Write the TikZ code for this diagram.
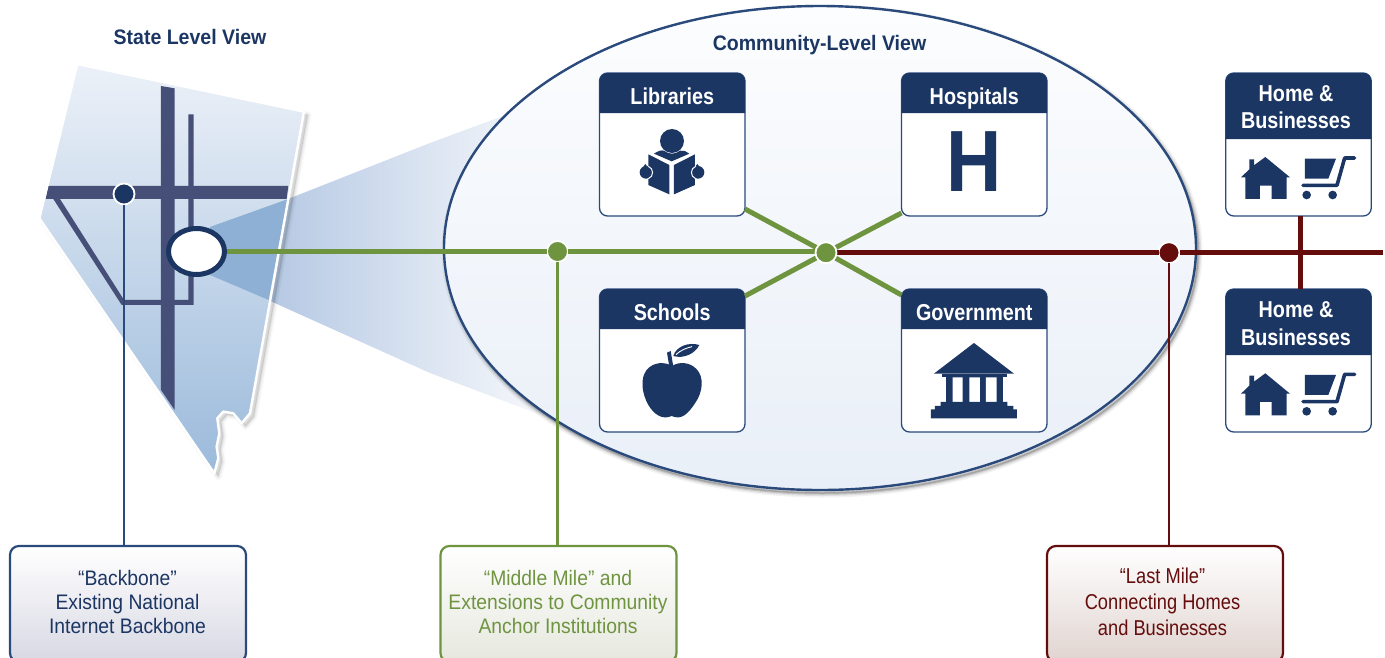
\documentclass[tikz,border=0pt]{standalone}
\usepackage{fontspec}
\setmainfont{Liberation Sans}
\newfontfamily\titlefont[FakeStretch=0.93]{Liberation Sans}
\newfontfamily\cardfont[FakeStretch=0.86]{Liberation Sans}
\newfontfamily\legfont[FakeStretch=0.92]{Liberation Sans}
\newfontfamily\redfont[FakeStretch=0.85]{Liberation Sans}
\newfontfamily\hfont[FakeStretch=0.88]{Liberation Sans}
\usetikzlibrary{calc,shapes.geometric}
\definecolor{navy}{HTML}{1C3664}
\definecolor{edgeblue}{HTML}{2B4A7C}
\definecolor{roadblue}{HTML}{454F78}
\definecolor{midgreen}{HTML}{6F9440}
\definecolor{lastred}{HTML}{650C0C}
\definecolor{wedgeL}{RGB}{167,190,222}
\definecolor{wedgeR}{RGB}{250,251,253}
\definecolor{wedgeIn}{RGB}{142,176,212}
\definecolor{mapT}{RGB}{236,241,248}
\definecolor{mapB}{RGB}{155,186,219}
\definecolor{ovalT}{RGB}{252,253,254}
\definecolor{ovalB}{RGB}{233,239,248}
\definecolor{legB}{RGB}{216,216,228}
\definecolor{legG}{RGB}{230,232,222}
\definecolor{legR}{RGB}{224,212,208}
\tikzset{
  cardbox/.style={draw=edgeblue,line width=1.3pt,fill=white,rounded corners=8pt,minimum width=145.5pt,minimum height=143pt,inner sep=0pt,outer sep=0pt},
  cardtitle/.style={text=white,font=\cardfont\fontsize{23}{27.5}\selectfont\bfseries,align=center,inner sep=0pt},
  viewtitle/.style={text=navy,font=\titlefont\fontsize{21}{25}\selectfont\bfseries,inner sep=0pt},
  legendbox/.style={rounded corners=9pt,line width=2.2pt,minimum width=236pt,minimum height=116pt,inner sep=0pt,outer sep=0pt},
  legendtext/.style={font=\legfont\fontsize{21}{24}\selectfont,align=center,inner sep=0pt},
  linkdot/.style={circle,draw=white,line width=1.8pt,minimum size=21pt,inner sep=0pt,outer sep=0pt},
  trunk/.style={line width=5pt},
  spur/.style={line width=2.7pt},
  zoomed/.style={x=0.3333pt,y=-0.3333pt}
}
\newcommand{\cardhead}[2]{%
  \fill[navy] (#1.west |- 0,#2) [rounded corners=8pt] -- (#1.north west) -- (#1.north east) [sharp corners] -- (#1.east |- 0,#2) -- cycle;
}
\newcommand{\homeicon}{%
  \fill[navy] (303,352)--(328,328)--(328,298)--(342,298)--(342,316)--(376,291)--(450,352)--(440,352)--(440,417)--(395,417)--(395,377)--(360,377)--(360,417)--(316,417)--(316,352)--cycle;
  \fill[navy] (495,296)--(588,296)--(565,356)--(495,356)--cycle;
  \draw[navy,line width=3.6pt,line cap=round,line join=round] (644,294)--(614,294)--(591,376)--(489,376);
  \fill[navy] (500,405) circle (13) (578,405) circle (13);
}
\newcommand{\mapoutline}{(232,192)--(912,335)--(750,1240)--(725,1270)--(700,1240)--(670,1235)--(652,1255)--(658,1300)--(650,1340)--(655,1375)--(643,1420)--(118,655)--cycle}
\begin{document}
\begin{tikzpicture}[x=1pt,y=-1pt]
\useasboundingbox (0,0) rectangle (1385,657);
\clip (0,0) rectangle (1385,657);
% wedge
\shade[left color=wedgeL,right color=wedgeR] (210,227)--(288,199)--(430,143)--(500,117)--(557,100)--(557,421)--(430,373)--(268,300)--(210,276)--cycle;
% map
\begin{scope}[zoomed]
  \foreach \w/\o in {7/0.025,4.5/0.035,2/0.05}{
    \begin{scope}[shift={(12,10)}]
    \draw[black,opacity=\o,line width=\w pt,fill=black,line join=round] \mapoutline;
    \end{scope}
  }
  \path[top color=mapT,bottom color=mapB] \mapoutline;
  \fill[roadblue] (145,558)--(865,558)--(860,597)--(137,597)--cycle;
  \fill[roadblue] (483,258)--(524,265)--(524,1230)--(483,1170)--cycle;
  \fill[roadblue] (565,343)--(581,343)--(581,915)--(365,915)--(160,597)--(180,597)--(372,900)--(565,900)--cycle;
  \fill[wedgeIn] (630,681)--(862,598)--(806,900)--(630,825)--cycle;
  \draw[white,line width=2.4pt,line join=round] \mapoutline;
\end{scope}
% big ellipse
\foreach \w/\o in {9/0.05,6/0.08,3.5/0.12,1.5/0.16}{
  \draw[black,opacity=\o,line width=\w pt] (822,251) ellipse [x radius=376,y radius=242];
}
\shade[top color=ovalT,bottom color=ovalB,draw=edgeblue,line width=2.4pt]
  (820,248) ellipse [x radius=376,y radius=242];
% titles
\node[viewtitle] (statetitle) at (190,36.5) {State Level View};
\node[viewtitle] (commtitle) at (819.5,45) {Community-Level View};
% cards
\node[cardbox] (lib) at (672.25,144.5) {};
\node[cardbox] (hosp) at (974.25,144.5) {};
\node[cardbox] (sch) at (672.25,360.5) {};
\node[cardbox] (gov) at (974.25,360.5) {};
\node[cardbox] (homeA) at (1298.5,144.5) {};
\node[cardbox] (homeB) at (1298.5,360.5) {};
\cardhead{lib}{113}
\cardhead{hosp}{113}
\cardhead{sch}{329}
\cardhead{gov}{329}
\cardhead{homeA}{139}
\cardhead{homeB}{355}
\node[cardtitle,anchor=base] (libT) at (672.25,104) {Libraries};
\node[cardtitle,anchor=base] (hospT) at (974.25,104) {Hospitals};
\node[cardtitle,anchor=base] (schT) at (672.25,320) {Schools};
\node[cardtitle,anchor=base] (govT) at (974.25,320) {Government};
\node[cardtitle] (homeAT) at (1296,107) {Home \&\\Businesses};
\node[cardtitle] (homeBT) at (1296,323.5) {Home \&\\Businesses};
\node[text=navy,font=\hfont\fontsize{87}{87}\selectfont\bfseries,inner sep=0pt] (hicon) at (974.25,161.5) {H};
% icons in zoomed coordinates
\begin{scope}[shift={(590,60)},zoomed]
  \fill[navy] (246,243) circle (36);
  \fill[navy] (192,281) .. controls (205,272) and (215,270) .. (222,272) .. controls (236,284) and (256,284) .. (270,272) .. controls (280,270) and (290,274) .. (298,281) -- (245,304) -- cycle;
  \fill[navy] (175,283)--(238,315)--(238,403)--(175,375)--cycle;
  \fill[navy] (252,315)--(315,283)--(315,375)--(252,403)--cycle;
  \fill[navy] (168,337) circle (19) (324,337) circle (19);
  \fill[navy] (160,320)--(166,312)--(172,320)--cycle (316,320)--(322,312)--(328,320)--cycle;
  \draw[white,line width=1pt] (175,319) .. controls (192,325) and (192,350) .. (175,356);
  \draw[white,line width=1pt] (317,319) .. controls (300,325) and (300,350) .. (317,356);
  \fill[navy] (246,918) .. controls (225,905) and (190,905) .. (170,930) .. controls (150,955) and (155,1000) .. (175,1035) .. controls (190,1060) and (215,1082) .. (245,1068) .. controls (275,1082) and (295,1060) .. (315,1030) .. controls (340,995) and (342,950) .. (320,928) .. controls (300,905) and (265,905) .. (246,918) -- cycle;
  \fill[navy] (231,878)--(242,873)--(250,920)--(238,920)--cycle;
  \fill[navy] (250,888) .. controls (258,860) and (295,845) .. (328,855) .. controls (315,882) and (280,897) .. (250,888) -- cycle;
  \draw[white,line width=0.9pt] (258,884) .. controls (272,870) and (290,864) .. (306,860);
  \fill[navy] (1152,849)--(1272,941)--(1032,941)--cycle;
  \fill[navy] (1055,941) rectangle (1250,952);
  \fill[navy] (1068,952) rectangle (1238,1030);
  \fill[white] (1088,952) rectangle (1118,1026) (1138,952) rectangle (1170,1026) (1188,952) rectangle (1220,1026);
  \fill[navy] (1052,1026) rectangle (1252,1038) (1035,1038) rectangle (1270,1048) (1023,1048) rectangle (1281,1075);
\end{scope}
\begin{scope}[shift={(1140,60)},zoomed]
  \homeicon
\end{scope}
\begin{scope}[shift={(1140,276.33)},zoomed]
  \homeicon
\end{scope}
% legend boxes
\node[legendbox,draw=edgeblue,top color=white,bottom color=legB] (bbbox) at (128,604) {};
\node[legendbox,draw=midgreen,top color=white,bottom color=legG] (mmbox) at (558.5,604) {};
\node[legendbox,draw=lastred,top color=white,middle color=legR!70!white,bottom color=legR] (lmbox) at (1165,604) {};
\node[legendtext,text=navy] (bbtext) at (127.5,601.5) {“Backbone”\\Existing National\\Internet Backbone};
\node[legendtext,text=midgreen] (mmtext) at (558,601.5) {“Middle Mile” and\\Extensions to Community\\Anchor Institutions};
\node[legendtext,text=lastred,font=\redfont\fontsize{21.5}{26}\selectfont] (lmtext) at (1162.5,601.5) {“Last Mile”\\Connecting Homes\\and Businesses};
% city ellipse and link dots
\node[ellipse,draw=navy,fill=white,line width=5pt,minimum width=56pt,minimum height=46pt,inner sep=0pt,outer sep=2.5pt] (city) at (196.5,251.5) {};
\node[linkdot,fill=navy] (bbdot) at (124,194) {};
\node[linkdot,fill=midgreen] (mmdot) at (557.5,251.5) {};
\node[linkdot,fill=midgreen] (hub) at (826,252.7) {};
\node[linkdot,fill=lastred] (lmdot) at (1169,252.7) {};
\coordinate (lineend) at (1383,252.7);
% connectors
\draw[edgeblue,spur] (bbdot.south) -- (bbdot.south |- bbbox.north);
\draw[midgreen,spur] (mmdot.south) -- (mmdot.south |- mmbox.north);
\draw[lastred,spur] (lmdot.south) -- (lmdot.south |- lmbox.north);
\draw[midgreen,trunk] (city.east) -- (mmdot.west);
\draw[midgreen,trunk] (mmdot.east) -- (mmdot.east -| hub.west);
\draw[midgreen,trunk] ($(lib.south east)+(0,-7)$) -- (hub);
\draw[midgreen,trunk] ($(hosp.south west)+(0,-3)$) -- (hub);
\draw[midgreen,trunk] ($(sch.north east)+(0,7)$) -- (hub);
\draw[midgreen,trunk] ($(gov.north west)+(0,6)$) -- (hub);
\draw[lastred,trunk] (hub.east) -- (lmdot.west);
\draw[lastred,trunk] (lmdot.east) -- (lineend);
\draw[lastred,trunk] (homeA.south -| 1300.5,0) -- (homeB.north -| 1300.5,0);
\node[linkdot,fill=midgreen] at (hub) {};
\end{tikzpicture}
\end{document}
